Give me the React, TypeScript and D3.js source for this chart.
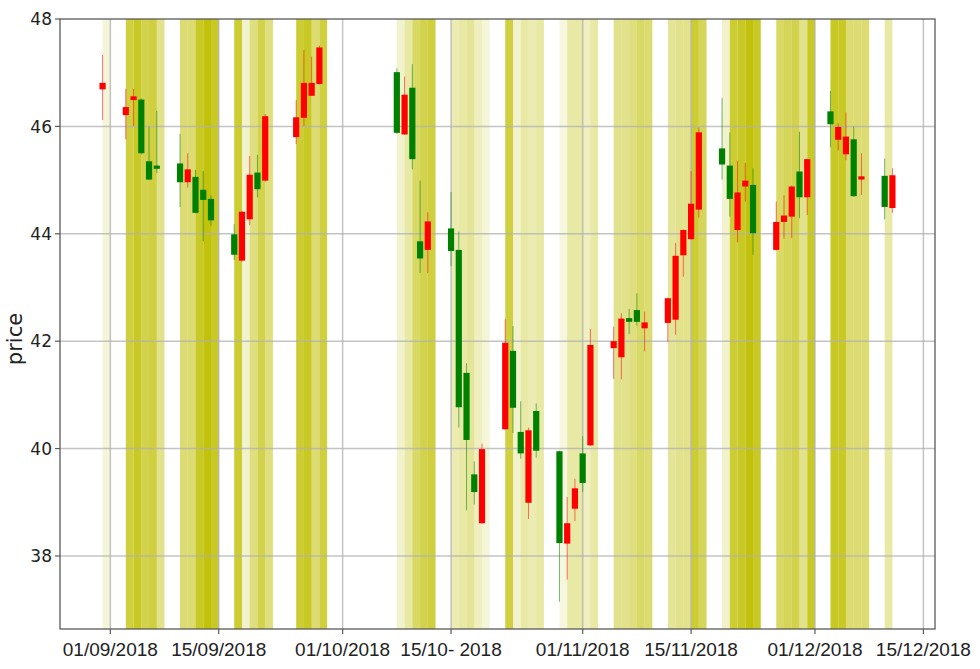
import React from 'react';
import * as d3 from 'd3';

// trading days
const dates = [
  '2018-08-31',
  '2018-09-03', '2018-09-04', '2018-09-05', '2018-09-06', '2018-09-07',
  '2018-09-10', '2018-09-11', '2018-09-12', '2018-09-13', '2018-09-14',
  '2018-09-17', '2018-09-18', '2018-09-19', '2018-09-20', '2018-09-21',
  '2018-09-25', '2018-09-26', '2018-09-27', '2018-09-28',
  '2018-10-08', '2018-10-09', '2018-10-10', '2018-10-11', '2018-10-12',
  '2018-10-15', '2018-10-16', '2018-10-17', '2018-10-18', '2018-10-19',
  '2018-10-22', '2018-10-23', '2018-10-24', '2018-10-25', '2018-10-26',
  '2018-10-29', '2018-10-30', '2018-10-31', '2018-11-01', '2018-11-02',
  '2018-11-05', '2018-11-06', '2018-11-07', '2018-11-08', '2018-11-09',
  '2018-11-12', '2018-11-13', '2018-11-14', '2018-11-15', '2018-11-16',
  '2018-11-19', '2018-11-20', '2018-11-21', '2018-11-22', '2018-11-23',
  '2018-11-26', '2018-11-27', '2018-11-28', '2018-11-29', '2018-11-30',
  '2018-12-03', '2018-12-04', '2018-12-05', '2018-12-06', '2018-12-07',
  '2018-12-10', '2018-12-11',
];

const open = [
  46.69,
  46.21, 46.49, 46.50, 45.35, 45.27,
  45.31, 44.96, 45.06, 44.82, 44.65,
  43.99, 43.50, 44.27, 45.14, 44.99,
  45.80, 46.16, 46.57, 46.79,
  47.01, 45.85, 46.72, 43.86, 43.70,
  44.10, 43.70, 41.41, 39.52, 38.61,
  40.36, 41.82, 40.31, 38.99, 40.70,
  39.95, 38.23, 38.88, 39.91, 40.06,
  41.87, 41.70, 42.43, 42.58, 42.24,
  42.34, 42.40, 43.60, 43.90, 44.45,
  45.59, 45.27, 44.07, 44.88, 44.91,
  43.70, 44.22, 44.32, 45.16, 44.68,
  46.28, 45.75, 45.48, 45.76, 45.01,
  45.08, 44.48,
];

const high = [
  47.33,
  46.70, 46.70, 46.52, 46.00, 46.29,
  45.86, 45.50, 45.19, 45.17, 44.72,
  44.18, 44.43, 45.45, 45.47, 46.23,
  46.49, 47.42, 47.30, 47.50,
  47.08, 46.93, 47.16, 44.99, 44.40,
  44.78, 44.04, 41.59, 39.76, 40.09,
  42.41, 42.28, 40.88, 40.39, 40.84,
  39.96, 39.10, 39.44, 40.23, 42.23,
  42.27, 42.52, 42.60, 42.89, 42.55,
  42.81, 43.83, 44.08, 45.17, 45.98,
  46.53, 45.89, 45.36, 45.32, 45.22,
  44.60, 44.72, 44.90, 45.90, 45.40,
  46.66, 46.06, 46.26, 46.00, 45.50,
  45.40, 45.22,
];

const low = [
  46.12,
  45.76, 46.01, 45.48, 45.00, 45.13,
  44.50, 44.86, 44.38, 43.86, 44.15,
  43.51, 43.48, 44.16, 44.68, 44.97,
  45.67, 46.01, 46.57, 46.78,
  45.86, 45.84, 45.20, 43.27, 43.27,
  43.40, 40.39, 38.85, 38.96, 38.60,
  40.35, 40.29, 39.81, 38.69, 39.83,
  37.15, 37.56, 38.65, 39.19, 40.05,
  41.30, 41.29, 42.13, 42.29, 41.81,
  41.99, 42.12, 43.20, 43.89, 44.30,
  45.01, 44.32, 43.84, 44.60, 43.61,
  43.69, 43.91, 43.92, 44.29, 44.35,
  45.61, 45.55, 45.37, 44.69, 44.72,
  44.27, 44.39,
];

const close = [
  46.81,
  46.36, 46.56, 45.50, 45.01, 45.21,
  44.96, 45.20, 44.39, 44.63, 44.25,
  43.61, 44.41, 45.10, 44.83, 46.19,
  46.17, 46.81, 46.81, 47.47,
  45.88, 46.59, 45.39, 43.54, 44.23,
  43.68, 40.77, 40.16, 39.19, 39.99,
  41.97, 40.76, 39.91, 40.34, 39.96,
  38.24, 38.61, 39.26, 39.36, 41.93,
  42.00, 42.42, 42.36, 42.36, 42.35,
  42.80, 43.59, 44.07, 44.56, 45.89,
  45.29, 44.65, 44.77, 44.99, 44.01,
  44.22, 44.34, 44.88, 44.68, 45.39,
  46.04, 45.99, 45.81, 44.70, 45.07,
  44.50, 45.09,
];

// shading strength of the band behind each day
const bandAlpha = [
  0.15,
  0.75, 0.85, 0.7, 0.75, 0.45,
  0.55, 0.55, 0.85, 0.95, 0.85,
  0.8, 0.2, 0.5, 0.7, 0.5,
  0.8, 0.85, 0.55, 0.75,
  0.2, 0.35, 0.6, 0.7, 0.75,
  0.3, 0.35, 0.4, 0.25, 0.15,
  0.75, 0.2, 0.35, 0.3, 0.35,
  0.12, 0.35, 0.35, 0.25, 0.35,
  0.45, 0.45, 0.5, 0.6, 0.55,
  0.4, 0.45, 0.45, 0.8, 0.65,
  0.2, 0.8, 0.85, 0.95, 0.85,
  0.6, 0.65, 0.7, 0.45, 0.85,
  0.85, 0.85, 0.55, 0.55, 0.55,
  0.35, 0,
];

const tickDates = ['2018-09-01', '2018-09-15', '2018-10-01', '2018-10-15', '2018-11-01', '2018-11-15', '2018-12-01', '2018-12-15'];
const tickLabels = ['01/09/2018', '15/09/2018', '01/10/2018', '15/10- 2018', '01/11/2018', '15/11/2018', '01/12/2018', '15/12/2018'];
const yTicks = [38, 40, 42, 44, 46, 48];

const parse = (s: string) => new Date(s + 'T00:00:00Z');
const DAY = 86400000;

export default function App() {
  const width = 980;
  const height = 669;
  const left = 60, right = 935, top = 19, bottom = 629;

  const x = d3.scaleUtc()
    .domain([new Date(Date.UTC(2018, 7, 25, 12)), new Date(Date.UTC(2018, 11, 16, 12))])
    .range([left, right]);
  const y = d3.scaleLinear().domain([36.64, 48]).range([bottom, top]);

  const days = dates.map(parse);
  const dayW = x(new Date(DAY * 1)) - x(new Date(0));
  const bodyW = dayW * 0.8;

  return (
    <svg width={width} height={height} style={{ position: 'absolute', left: 0, top: 0, background: '#fff' }}>
      {/* background bands */}
      {days.map((d, i) => bandAlpha[i] > 0 ? (
        <rect key={'b' + i} x={x(d)} y={top} width={x(new Date(+d + DAY)) - x(d)} height={bottom - top}
          fill="rgb(191,191,0)" fillOpacity={bandAlpha[i]} />
      ) : null)}

      {/* grid */}
      {yTicks.filter(t => t < 48).map(t => (
        <line key={'gy' + t} x1={left} x2={right} y1={y(t)} y2={y(t)} stroke="#b0b0b0" strokeWidth={1.5} strokeOpacity={0.75} />
      ))}
      {tickDates.map(t => (
        <line key={'gx' + t} x1={x(parse(t))} x2={x(parse(t))} y1={top} y2={bottom} stroke="#b0b0b0" strokeWidth={1.5} strokeOpacity={0.75} />
      ))}

      {/* candles */}
      {days.map((d, i) => {
        const up = close[i] >= open[i];
        const c = up ? '#ff0000' : '#008000';
        const cx = x(d);
        const yt = y(Math.max(open[i], close[i]));
        const yb = y(Math.min(open[i], close[i]));
        return (
          <g key={'c' + i}>
            <line x1={cx} x2={cx} y1={y(high[i])} y2={y(low[i])} stroke={c} strokeWidth={1} strokeOpacity={0.55} />
            <rect x={cx - bodyW / 2} y={yt} width={bodyW} height={Math.max(yb - yt, 1)} fill={c} />
          </g>
        );
      })}

      {/* frame */}
      <rect x={left} y={top} width={right - left} height={bottom - top} fill="none" stroke="#5a5a5a" strokeWidth={1.3} />

      {/* x axis */}
      {tickDates.map((t, i) => (
        <g key={'xt' + t} transform={`translate(${x(parse(t))},${bottom})`}>
          <line y1={0} y2={5} stroke="#5a5a5a" strokeWidth={1.2} />
          <text y={27} textAnchor="middle" fontFamily="Liberation Sans, Arial, sans-serif" fontSize={19} fill="#222">{tickLabels[i]}</text>
        </g>
      ))}

      {/* y axis */}
      {yTicks.map(t => (
        <g key={'yt' + t} transform={`translate(${left},${y(t)})`}>
          <line x1={0} x2={-5} stroke="#5a5a5a" strokeWidth={1.2} />
          <text x={-8} dy="0.36em" textAnchor="end" fontFamily="DejaVu Sans, sans-serif" fontSize={17} fill="#222">{t}</text>
        </g>
      ))}
      <text transform={`translate(22,${(top + bottom) / 2 + 15}) rotate(-90)`} textAnchor="middle"
        fontFamily="DejaVu Sans, sans-serif" fontSize={21} fill="#222">price</text>
    </svg>
  );
}
